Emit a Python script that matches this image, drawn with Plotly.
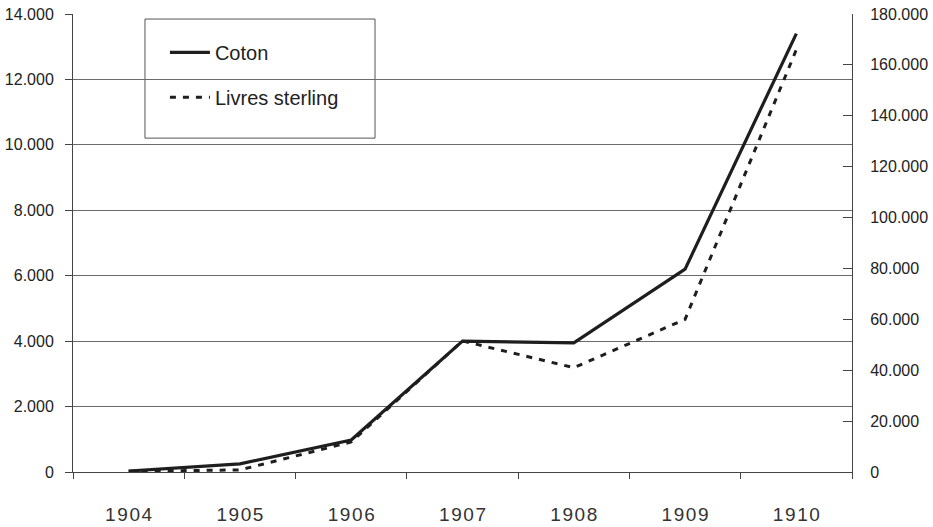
import plotly.graph_objects as go

# Data
years = ["1904", "1905", "1906", "1907", "1908", "1909", "1910"]
coton = [30, 250, 980, 4000, 3950, 6200, 13400]           # left axis
livres = [300, 800, 11800, 51500, 41000, 60000, 166000]   # right axis

left_ticks = [0, 2000, 4000, 6000, 8000, 10000, 12000, 14000]
left_text = ["0", "2.000", "4.000", "6.000", "8.000", "10.000", "12.000", "14.000"]
right_ticks = [0, 20000, 40000, 60000, 80000, 100000, 120000, 140000, 160000, 180000]
right_text = ["0", "20.000", "40.000", "60.000", "80.000", "100.000",
              "120.000", "140.000", "160.000", "180.000"]

# spaced-out year labels like the scanned original
year_labels = ["\u200a".join(y) for y in years]

INK = "#1e1e1e"
GRID = "#6a6a6a"

fig = go.Figure()

fig.add_trace(go.Scatter(
    x=years, y=coton, name="Coton", mode="lines",
    line=dict(color=INK, width=3.2), legendgroup="a",
))
fig.add_trace(go.Scatter(
    x=years, y=livres, name="Livres sterling", mode="lines", yaxis="y2",
    line=dict(color=INK, width=3, dash="6px,7px"), legendgroup="b",
))

# legend frame
fig.add_shape(type="rect", xref="paper", yref="paper",
              x0=0.0924, x1=0.3877, y0=0.729, y1=0.989,
              line=dict(color="#555", width=1), fillcolor="white", layer="below")

fig.update_layout(
    width=933, height=527,
    margin=dict(l=73, r=81, t=14, b=55),
    paper_bgcolor="white", plot_bgcolor="white",
    font=dict(family="Arial, Liberation Sans, sans-serif", color="#222"),
    showlegend=True,
    legend=dict(
        x=0.118, y=0.959, xanchor="left", yanchor="top",
        bgcolor="rgba(0,0,0,0)", borderwidth=0,
        font=dict(size=20, family="Arial, Liberation Sans, sans-serif", color="#222"),
        tracegroupgap=16, itemwidth=40,
    ),
    xaxis=dict(
        type="category", categoryorder="array", categoryarray=years,
        tickvals=years, ticktext=year_labels,
        tickson="boundaries", ticks="outside", ticklen=6, tickcolor="#444",
        showline=True, linecolor="#444", linewidth=1,
        showgrid=False, zeroline=False, automargin=False,
        tickfont=dict(family="Arial, Liberation Sans, sans-serif",
                      size=19, color="#333"),
        ticklabelstandoff=25,
        range=[-0.5, 6.5],
    ),
    yaxis=dict(
        range=[0, 14000], tickvals=left_ticks, ticktext=left_text,
        ticks="outside", ticklen=7, tickcolor="#444",
        showline=True, linecolor="#444", linewidth=1,
        showgrid=True, gridcolor=GRID, gridwidth=1, zeroline=False,
        automargin=False,
        tickfont=dict(size=16, color="#222"),
        ticklabelstandoff=8,
    ),
    yaxis2=dict(
        range=[0, 180000], tickvals=right_ticks, ticktext=right_text,
        overlaying="y", side="right", anchor="x",
        ticks="inside", ticklen=9, tickcolor="#444",
        showline=True, linecolor="#444", linewidth=1,
        showgrid=False, zeroline=False, automargin=False,
        tickfont=dict(size=16, color="#222"),
        ticklabelstandoff=14,
    ),
)

# drop the browser's default 8px body margin so the figure fills the window
fig.write_html("out.html", config={"displayModeBar": False},
               post_script="document.body.style.margin = '0';")
